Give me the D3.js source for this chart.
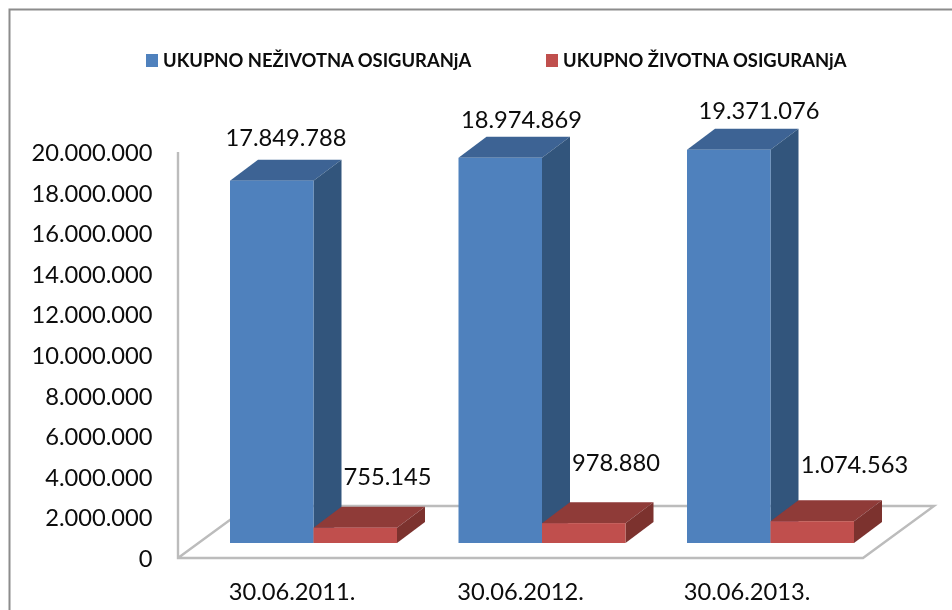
<!DOCTYPE html>
<html><head><meta charset="utf-8">
<script src="https://cdn.jsdelivr.net/npm/d3@7"></script>
<style>html,body{margin:0;padding:0;background:#fff}svg{display:block}text{font-family:Lato,"Open Sans",sans-serif;fill:#0a0a0a}</style>
</head><body><svg id="c" width="952" height="610"></svg>
<script>
const categories = ["30.06.2011.","30.06.2012.","30.06.2013."];
const seriesNames = ["UKUPNO NEŽIVOTNA OSIGURANjA","UKUPNO ŽIVOTNA OSIGURANjA"];
const nonLife = [17849788,18974869,19371076];
const life = [755145,978880,1074563];
const valueLabels = [["17.849.788","18.974.869","19.371.076"],["755.145","978.880","1.074.563"]];
const tickValues = [0,2e6,4e6,6e6,8e6,1e7,1.2e7,1.4e7,1.6e7,1.8e7,2e7];

const svg = d3.select("#c");
const soft = svg.append("defs").append("filter").attr("id","soft").attr("x",0).attr("y",0)
  .attr("filterUnits","userSpaceOnUse");
soft.attr("width",952).attr("height",610).append("feGaussianBlur").attr("stdDeviation",0.4);
const root = svg.append("g").attr("filter","url(#soft)");
root.append("rect").attr("width",952).attr("height",610).attr("fill","#fff");

const fmt = v => d3.format(",")(v).replace(/,/g,".");
const colors = [{front:"#4f81bd",top:"#3c6494",side:"#31547c"},{front:"#c0504d",top:"#8f3a38",side:"#7b322f"}];
const depth = {x:28,y:-21}, floorDepth={x:71,y:-52};
const y = d3.scaleLinear().domain([0,2e7]).range([558,152]);
const baseShift = -15;
const x = d3.scaleBand().domain(categories).range([206,206+228.5*3]);
const barW = 83.5, barX0 = 24;
// fine placement of the value labels relative to their bars
const nudgeBig = [[0,-35],[7,-30],[16,-31]];
const nudgeSmall = [[74,-43],[74,-52],[84,-48]];
const catNudge = [-1,-1,-3];

root.append("path").attr("d","M9.5,610V9.5H952").attr("fill","none").attr("stroke","#8c8c8c").attr("stroke-width",2);

const fl = 178, fr = 863, fb = y(0);
root.append("path").attr("d",`M${fl},${y(2e7)}V${fb}H${fr}L${fr+floorDepth.x},${fb+floorDepth.y}H${fl+floorDepth.x}L${fl},${fb}`)
  .attr("fill","none").attr("stroke","#bcbcbc").attr("stroke-width",2.4);

function box(px,val,c){
  const b=y(0)+baseShift, t=y(val)+baseShift, w=barW, d=depth;
  const g=root.append("g");
  g.append("path").attr("d",`M${px},${t}l${d.x},${d.y}h${w}l${-d.x},${-d.y}z`).attr("fill",c.top);
  g.append("path").attr("d",`M${px+w},${t}l${d.x},${d.y}V${b+d.y}l${-d.x},${-d.y}z`).attr("fill",c.side);
  g.append("rect").attr("x",px).attr("y",t).attr("width",w).attr("height",b-t).attr("fill",c.front);
}
categories.forEach((cat,i)=>{
  const px=x(cat)+barX0;
  box(px,nonLife[i],colors[0]);
  box(px+barW,life[i],colors[1]);
});

root.append("g").selectAll("text").data(tickValues).join("text")
  .attr("x",152.5).attr("y",d=>y(d)+9).attr("text-anchor","end").attr("font-size",23.7)
  .text(d=>fmt(d));

root.append("g").selectAll("text").data(categories).join("text")
  .attr("x",(d,i)=>x(d)+barX0+63+catNudge[i]).attr("y",600).attr("text-anchor","middle").attr("font-size",23.7).text(d=>d);

categories.forEach((cat,i)=>{
  const px=x(cat)+barX0;
  root.append("text").attr("x",px+56+nudgeBig[i][0]).attr("y",y(nonLife[i])+baseShift+nudgeBig[i][1]).attr("text-anchor","middle").attr("font-size",23.7).text(valueLabels[0][i]);
  root.append("text").attr("x",px+barW+nudgeSmall[i][0]).attr("y",y(life[i])+baseShift+nudgeSmall[i][1]).attr("text-anchor","middle").attr("font-size",23.7).text(valueLabels[1][i]);
});

const lx=[146,546];
seriesNames.forEach((n,i)=>{
  root.append("rect").attr("x",lx[i]).attr("y",54).attr("width",12).attr("height",13).attr("fill",colors[i].front);
  root.append("text").attr("x",lx[i]+17).attr("y",66.5).attr("font-size",18.4).attr("font-weight",700).text(n);
});
</script></body></html>
